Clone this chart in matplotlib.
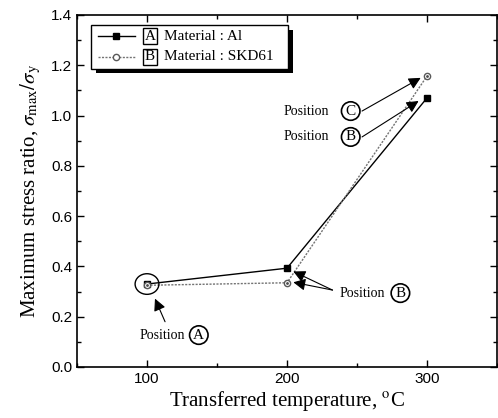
import matplotlib
matplotlib.use("Agg")
import matplotlib.pyplot as plt
from matplotlib.patches import Ellipse, Rectangle
from matplotlib.ticker import MultipleLocator
from matplotlib.lines import Line2D

temps = [100, 200, 300]
ratio_al = [0.33, 0.393, 1.07]
ratio_skd = [0.325, 0.335, 1.157]
x_ticks = [100, 200, 300]
y_ticks = [0.0, 0.2, 0.4, 0.6, 0.8, 1.0, 1.2, 1.4]

plt.rcParams['mathtext.fontset'] = 'stix'
SERIF = 'Liberation Serif'
SANS = 'Liberation Sans'

fig = plt.figure(figsize=(4.98, 4.18), dpi=100)
ax = fig.add_axes([77/498, 1-367/418, 420/498, 352/418])

ax.plot(temps, ratio_al, color='black', lw=1.0, marker='s', ms=4.5, mfc='black', mec='black', zorder=3)
ax.plot(temps, ratio_skd, color='0.45', lw=1.0, ls=(0, (1.5, 1)), marker='o', ms=4.5,
        mfc='white', mec='0.35', mew=1.0, zorder=3)
ax.plot(temps, ratio_skd, ls='none', marker='.', ms=2, color='0.3', zorder=4)

ax.set_xlim(50, 350)
ax.set_ylim(0, 1.4)
ax.set_xticks(x_ticks)
ax.set_yticks(y_ticks)
ax.set_yticklabels([f"{v:.1f}" for v in y_ticks])
ax.xaxis.set_minor_locator(MultipleLocator(50))
ax.yaxis.set_minor_locator(MultipleLocator(0.1))
ax.tick_params(which='both', direction='in', top=True, right=True, width=1)
ax.tick_params(which='major', length=5, labelsize=11)
ax.tick_params(which='minor', length=3)
for lab in ax.get_xticklabels() + ax.get_yticklabels():
    lab.set_fontfamily(SANS)
for s in ax.spines.values():
    s.set_linewidth(1.2)

ax.set_xlabel('Transferred temperature, $^{\\rm o}$C', family=SERIF, fontsize=15, labelpad=2)
ax.set_ylabel(r'Maximum stress ratio, $\sigma_{\rm max}/\sigma_{\rm y}$', family=SERIF, fontsize=15, labelpad=6)

# big circle around position A
ax.add_patch(Ellipse((100, 0.33), 17, 0.082, fill=False, ec='black', lw=1.0, zorder=5))

circ = dict(boxstyle='circle,pad=0.18', fc='white', ec='black', lw=1.2)
arrow = dict(arrowstyle='-|>', color='black', lw=0.8, mutation_scale=18, shrinkA=0, shrinkB=0)
tfs = 10

def position(xt, yt, xc, letter):
    ax.text(xt, yt, 'Position', family=SERIF, fontsize=tfs, ha='center', va='center')
    ax.text(xc, yt, letter, family=SERIF, fontsize=tfs + 1, ha='center', va='center', bbox=circ)

position(110.7, 0.127, 137.0, 'A')
ax.annotate('', xy=(105.7, 0.272), xytext=(112.9, 0.18), arrowprops=arrow)

position(253.6, 0.294, 281.0, 'B')
ax.annotate('', xy=(204.5, 0.38), xytext=(232.5, 0.306), arrowprops=arrow)
ax.annotate('', xy=(204.5, 0.337), xytext=(232.5, 0.306), arrowprops=arrow)

position(213.6, 1.018, 245.5, 'C')
ax.annotate('', xy=(295.5, 1.15), xytext=(253.6, 1.018), arrowprops=arrow)

position(213.6, 0.915, 245.5, 'B')
ax.annotate('', xy=(294.0, 1.058), xytext=(253.6, 0.915), arrowprops=arrow)

# legend box with black shadow (pixel -> axes coords)
def px(xp, yp):
    return ((xp - 77) / 420, (367 - yp) / 352)

x0, y0 = px(91, 69)
x1, y1 = px(288, 25)
sx, sy = px(96, 73)
sx1, _ = px(293, 0)
ax.add_patch(Rectangle((sx, sy), sx1 - sx, (y1 - 5/352) - sy, transform=ax.transAxes,
                       fc='black', ec='none', zorder=6))
ax.add_patch(Rectangle((x0, y0), x1 - x0, y1 - y0, transform=ax.transAxes,
                       fc='white', ec='black', lw=1.0, zorder=7))

la, ya = px(98, 36)
lb, _ = px(135, 36)
mx, _ = px(116, 36)
_, yb = px(98, 57)
ax.add_line(Line2D([la, lb], [ya, ya], transform=ax.transAxes, color='black', lw=1.0, zorder=8))
ax.add_line(Line2D([mx], [ya], transform=ax.transAxes, marker='s', ms=4.5, color='black', zorder=8))
ax.add_line(Line2D([la, lb], [yb, yb], transform=ax.transAxes, color='0.45', lw=1.0, ls=(0, (1.5, 1)), zorder=8))
ax.add_line(Line2D([mx], [yb], transform=ax.transAxes, marker='o', ms=4.5, mfc='white', mec='0.35', ls='none', zorder=8))

bx, _ = px(150, 0)
tx, _ = px(164, 0)
sq = dict(boxstyle='square,pad=0.1', fc='white', ec='black', lw=1.0)
ax.text(bx, ya, 'A', transform=ax.transAxes, family=SERIF, fontsize=11, ha='center', va='center', bbox=sq, zorder=9)
ax.text(bx, yb, 'B', transform=ax.transAxes, family=SERIF, fontsize=11, ha='center', va='center', bbox=sq, zorder=9)
ax.text(tx, ya, 'Material : Al', transform=ax.transAxes, family=SERIF, fontsize=11, ha='left', va='center', zorder=9)
ax.text(tx, yb, 'Material : SKD61', transform=ax.transAxes, family=SERIF, fontsize=11, ha='left', va='center', zorder=9)

fig.savefig('out.png', dpi=100)
